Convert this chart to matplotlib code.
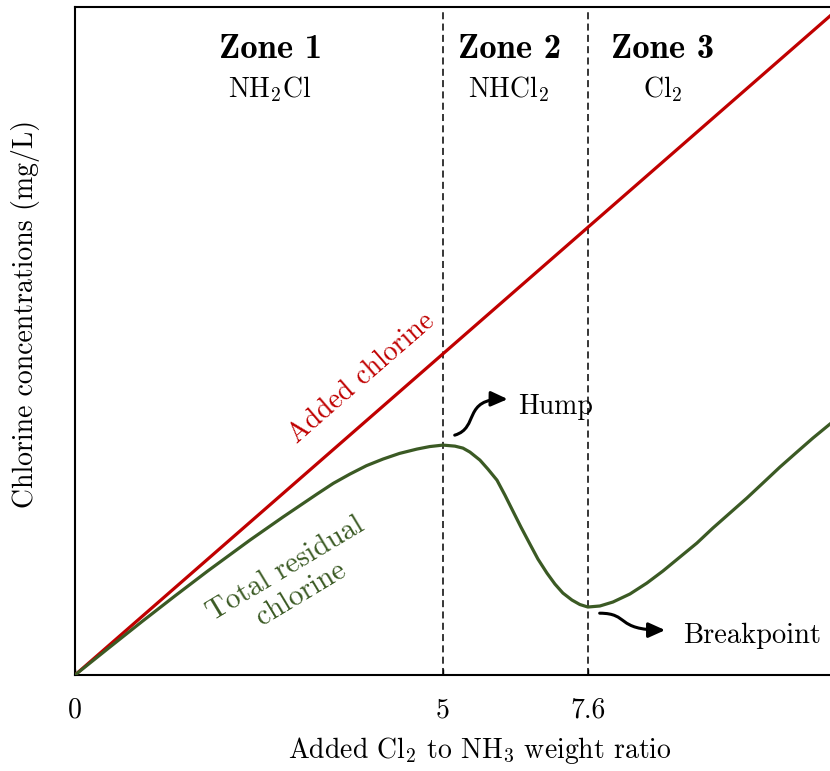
import matplotlib
matplotlib.use("Agg")
import matplotlib.pyplot as plt
from matplotlib.path import Path
from matplotlib.patches import FancyArrowPatch

plt.rcParams['font.family'] = 'cmr10'
plt.rcParams['mathtext.fontset'] = 'cm'
plt.rcParams['axes.formatter.use_mathtext'] = True

# added chlorine (straight line), axis units
added_x = [0, 10.40]
added_y = [0, 9.08]

# total residual chlorine
resid_x = [0, 0.448, 0.910, 1.359, 1.807, 2.378, 2.826, 3.288, 3.510, 3.736,
           3.960, 4.185, 4.410, 4.647, 4.820, 5.000, 5.163, 5.272, 5.367, 5.503,
           5.611, 5.734, 5.842, 5.951, 6.060, 6.182, 6.291, 6.413, 6.522, 6.630,
           6.753, 6.861, 6.970, 7.133, 7.310, 7.541, 7.772, 7.989, 8.220, 8.451,
           8.668, 8.899, 9.130, 9.348, 9.579, 9.810, 10.027, 10.258, 10.530]
resid_y = [0, 0.359, 0.726, 1.075, 1.416, 1.834, 2.147, 2.459, 2.605, 2.731,
           2.845, 2.935, 3.012, 3.071, 3.105, 3.125, 3.111, 3.084, 3.030, 2.921,
           2.799, 2.649, 2.446, 2.228, 2.011, 1.780, 1.576, 1.386, 1.236, 1.114,
           1.019, 0.958, 0.924, 0.938, 0.992, 1.101, 1.250, 1.413, 1.603, 1.793,
           1.997, 2.201, 2.405, 2.609, 2.826, 3.030, 3.220, 3.410, 3.628]

zone_bounds = [5.0, 6.97]
tick_pos = [0, 5.0, 6.97]
tick_labels = ['0', '5', '7.6']

zone_names = ['Zone 1', 'Zone 2', 'Zone 3']
zone_species = [r'NH$_2$Cl', r'NHCl$_2$', r'Cl$_2$']
zone_x = [2.65, 5.90, 7.99]

red = '#c00000'
green = '#3b5a24'

fig = plt.figure(figsize=(8.3, 7.71), dpi=100)
ax = fig.add_axes([75/830, 96/771, 755/830, 668/771])

ax.plot(added_x, added_y, color=red, lw=2.3, solid_capstyle='round', zorder=3)
ax.plot(resid_x, resid_y, color=green, lw=2.3, solid_capstyle='round',
        solid_joinstyle='round', zorder=3)

for xb in zone_bounds:
    ax.axvline(xb, color='black', lw=1.1, dashes=(4.6, 2.8), zorder=2)

ax.set_xlim(0, 10.26)
ax.set_ylim(0, 9.08)
ax.set_xticks(tick_pos)
ax.set_xticklabels(tick_labels)
ax.set_yticks([])
ax.tick_params(axis='x', direction='in', length=4, width=1, pad=16, labelsize=20)
for s in ['left', 'bottom', 'top']:
    ax.spines[s].set_linewidth(1.5)
ax.spines['right'].set_visible(False)

ax.set_xlabel(r'Added Cl$_2$ to NH$_3$ weight ratio', fontsize=20)
ax.set_ylabel('Chlorine concentrations (mg/L)', fontsize=20)
ax.xaxis.set_label_coords(0.536, -0.090)
ax.yaxis.set_label_coords(-0.047, 0.54)

for name, spec, zx in zip(zone_names, zone_species, zone_x):
    ax.text(zx, 8.50, name, family='cmb10', fontsize=25, ha='center', va='center')
    ax.text(zx, 7.97, spec, fontsize=20, ha='center', va='center')

ax.text(3.90, 4.04, 'Added chlorine', color=red, fontsize=20, rotation=41,
        ha='center', va='center', rotation_mode='anchor')
ax.text(2.97, 1.27, 'Total residual\nchlorine', color=green, fontsize=21, rotation=31,
        ha='center', va='center', rotation_mode='anchor', linespacing=1.1)

# curly arrows
hump_path = Path([(5.16, 3.26), (5.50, 3.36), (5.26, 3.76), (5.88, 3.75)],
                 [Path.MOVETO, Path.CURVE4, Path.CURVE4, Path.CURVE4])
ax.add_patch(FancyArrowPatch(path=hump_path, arrowstyle='-|>,head_length=10,head_width=4.5',
                             color='black', lw=2.2))
ax.text(6.02, 3.64, 'Hump', fontsize=20, ha='left', va='center')

bp_path = Path([(7.13, 0.84), (7.54, 0.84), (7.34, 0.61), (8.02, 0.61)],
               [Path.MOVETO, Path.CURVE4, Path.CURVE4, Path.CURVE4])
ax.add_patch(FancyArrowPatch(path=bp_path, arrowstyle='-|>,head_length=10,head_width=4.5',
                             color='black', lw=2.2))
ax.text(8.26, 0.53, 'Breakpoint', fontsize=20.5, ha='left', va='center')

fig.savefig('out.png', dpi=100)
